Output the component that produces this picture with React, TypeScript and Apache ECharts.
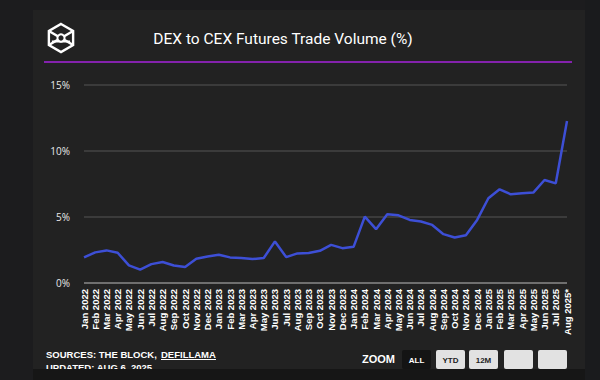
import React, { useEffect, useRef } from "react";
import * as echarts from "echarts";

const months: string[] = [
  "Jan 2022", "Feb 2022", "Mar 2022", "Apr 2022", "May 2022", "Jun 2022",
  "Jul 2022", "Aug 2022", "Sep 2022", "Oct 2022", "Nov 2022", "Dec 2022",
  "Jan 2023", "Feb 2023", "Mar 2023", "Apr 2023", "May 2023", "Jun 2023",
  "Jul 2023", "Aug 2023", "Sep 2023", "Oct 2023", "Nov 2023", "Dec 2023",
  "Jan 2024", "Feb 2024", "Mar 2024", "Apr 2024", "May 2024", "Jun 2024",
  "Jul 2024", "Aug 2024", "Sep 2024", "Oct 2024", "Nov 2024", "Dec 2024",
  "Jan 2025", "Feb 2025", "Mar 2025", "Apr 2025", "May 2025", "Jun 2025",
  "Jul 2025", "Aug 2025*",
];

const dexToCex: number[] = [
  1.94, 2.32, 2.47, 2.29, 1.33, 1.01, 1.43, 1.59, 1.33, 1.21, 1.84, 2.01,
  2.14, 1.94, 1.89, 1.81, 1.89, 3.15, 1.96, 2.24, 2.27, 2.44, 2.89, 2.64,
  2.74, 5.03, 4.08, 5.21, 5.13, 4.78, 4.66, 4.40, 3.70, 3.45, 3.62, 4.78,
  6.42, 7.10, 6.72, 6.80, 6.85, 7.80, 7.55, 12.28,
];

const yTicks = { min: 0, max: 15, interval: 5 };
const titleText = "DEX to CEX Futures Trade Volume (%)";
const zoomButtons = ["ALL", "YTD", "12M", "", ""];

export default function App() {
  const ref = useRef<HTMLDivElement>(null);
  useEffect(() => {
    document.body.style.margin = "0";
    document.body.style.background = "#1c1c1e";
    if (!ref.current) return;
    const chart = echarts.init(ref.current, undefined, { renderer: "svg" });

    // logo geometry
    const cx = 61, cy = 38, r = 14;
    const hex: number[][] = [];
    for (let i = 0; i < 6; i++) {
      const a = (Math.PI / 3) * i - Math.PI / 2;
      hex.push([cx + r * Math.cos(a), cy + r * Math.sin(a)]);
    }
    const logoStroke = { stroke: "#ffffff", lineWidth: 2.4, fill: null as any };

    const btnX = [402, 436, 469, 504, 538];
    const buttons: any[] = [];
    zoomButtons.forEach((b, i) => {
      const active = i === 0;
      buttons.push({
        type: "rect",
        shape: { x: btnX[i], y: 350, width: 29, height: 19, r: 2 },
        style: { fill: active ? "#141414" : "#e2e2e2" },
        z: 10,
      });
      if (b) {
        buttons.push({
          type: "text",
          x: btnX[i] + 14.5,
          y: 360,
          style: {
            text: b,
            fill: active ? "#ffffff" : "#222222",
            font: "bold 8px 'Liberation Sans', Arial, sans-serif",
            align: "center",
            verticalAlign: "middle",
          },
          z: 11,
        });
      }
    });

    const srcFont = "bold 9.5px 'Liberation Sans', Arial, sans-serif";

    chart.setOption({
      animation: false,
      backgroundColor: "#1c1c1e",
      title: {
        text: titleText,
        left: 278,
        top: 26,
        textAlign: "center",
        textStyle: {
          color: "#ffffff",
          fontSize: 15.5,
          fontWeight: "normal",
          fontFamily: "Roboto, 'Noto Sans', sans-serif",
        },
      },
      grid: { left: 84, right: 33, top: 85, bottom: 97 },
      xAxis: {
        type: "category",
        data: months,
        boundaryGap: false,
        axisLine: { show: false },
        axisTick: { show: false },
        axisLabel: {
          interval: 0,
          rotate: 90,
          color: "#ffffff",
          fontSize: 9.5,
          fontWeight: "bold",
          fontFamily: "'Liberation Sans', Arial, sans-serif",
          margin: 6,
        },
      },
      yAxis: {
        type: "value",
        min: yTicks.min,
        max: yTicks.max,
        interval: yTicks.interval,
        axisLine: { show: false },
        axisTick: { show: false },
        axisLabel: {
          formatter: "{value}%",
          color: "#e8e8e8",
          fontSize: 10,
          fontFamily: "'Open Sans', 'Noto Sans', sans-serif",
          margin: 14,
        },
        splitLine: {
          lineStyle: {
            color: ["#8a8a8a", "#454545", "#454545", "#454545"],
            width: 1.5,
          },
        },
      },
      series: [
        {
          type: "line",
          data: dexToCex,
          symbol: "none",
          lineStyle: { color: "#3d4fd6", width: 2.5 },
          z: 5,
        },
      ],
      graphic: [
        {
          type: "rect",
          shape: { x: 33, y: 10, width: 552, height: 362 },
          style: { fill: "#222222" },
          z: -10,
          silent: true,
        },
        {
          type: "line",
          shape: { x1: 44, y1: 62, x2: 572, y2: 62 },
          style: { stroke: "#8422ad", lineWidth: 2 },
          z: 1,
        },
        {
          type: "polygon",
          shape: { points: hex },
          style: logoStroke,
          z: 2,
        },
        {
          type: "polyline",
          shape: { points: [hex[5], [cx, cy], hex[1]] },
          style: logoStroke,
          z: 2,
        },
        {
          type: "polyline",
          shape: { points: [hex[4], [cx, cy], hex[2]] },
          style: logoStroke,
          z: 2,
        },
        {
          type: "line",
          shape: { x1: hex[4][0] + 3, y1: cy + 3.5, x2: hex[2][0] - 3, y2: cy + 3.5 },
          style: { stroke: "#ffffff", lineWidth: 2 },
          z: 2,
        },
        {
          type: "circle",
          shape: { cx, cy, r: 3.6 },
          style: { fill: "#222222", stroke: "#ffffff", lineWidth: 2 },
          z: 3,
        },
        {
          type: "text",
          x: 161,
          y: 349,
          style: {
            text: "DEFILLAMA",
            fill: "#ffffff",
            font: srcFont,
          },
          z: 5,
        },
        {
          type: "text",
          x: 46,
          y: 349,
          style: {
            text: "SOURCES: THE BLOCK,",
            fill: "#ffffff",
            font: srcFont,
          },
          z: 5,
        },
        {
          type: "line",
          shape: { x1: 161, y1: 359.5, x2: 216, y2: 359.5 },
          style: { stroke: "#ffffff", lineWidth: 1 },
          z: 5,
        },
        {
          type: "text",
          x: 46,
          y: 362,
          style: {
            text: "UPDATED: AUG 6, 2025",
            fill: "#ffffff",
            font: srcFont,
          },
          z: 5,
        },
        {
          type: "text",
          x: 362,
          y: 353,
          style: {
            text: "ZOOM",
            fill: "#ffffff",
            font: "bold 11px 'Liberation Sans', Arial, sans-serif",
          },
          z: 5,
        },
        ...buttons,
        {
          type: "rect",
          shape: { x: 33, y: 369, width: 552, height: 11 },
          style: { fill: "#161616" },
          z: 20,
        },
        {
          type: "rect",
          shape: { x: 585, y: 0, width: 15, height: 380 },
          style: { fill: "#1a1b1d" },
          z: 20,
        },
      ],
    });
    return () => chart.dispose();
  }, []);
  return (
    <div
      ref={ref}
      style={{ position: "fixed", left: 0, top: 0, width: 600, height: 380 }}
    />
  );
}
